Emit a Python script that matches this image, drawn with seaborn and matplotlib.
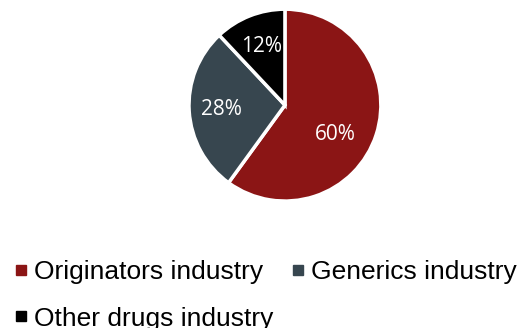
import matplotlib
matplotlib.use("Agg")
import matplotlib.pyplot as plt
from matplotlib.lines import Line2D
import numpy as np
import seaborn as sns

# Market share by industry segment
segments = ["Originators industry", "Generics industry", "Other drugs industry"]
shares = [60, 28, 12]
colors = ["#8B1515", "#37464F", "#000000"]

sns.set_theme(style="white")
plt.rcParams["font.family"] = ["Liberation Sans", "DejaVu Sans"]

palette = sns.color_palette(colors)

fig = plt.figure(figsize=(5.19, 3.28), dpi=100)
ax = fig.add_axes([0.364, 0.387, 0.370, 0.585])

wedges, texts, autotexts = ax.pie(
    shares,
    colors=palette,
    startangle=90,
    counterclock=False,
    autopct=lambda p: f"{p:.0f}%",
    pctdistance=0.66,
    wedgeprops=dict(edgecolor="white", linewidth=2.5),
    textprops=dict(color="white", fontsize=15, family="Open Sans"),
    radius=1.0,
)
# the large slice label sits a little lower than its wedge midpoint
ang = np.deg2rad(-30.6)
autotexts[0].set_position((0.61 * np.cos(ang), 0.61 * np.sin(ang)))

ax.set_xlim(-1.0, 1.0)
ax.set_ylim(-1.0, 1.0)
ax.set_aspect("equal")
ax.axis("off")

# Legend laid out row-wise across two columns
handles = [
    Line2D([], [], marker="s", linestyle="none", markersize=6.5,
           markerfacecolor=c, markeredgecolor=c)
    for c in palette
]
order = [0, 2, 1]
fig.legend(
    [handles[i] for i in order],
    [segments[i] for i in order],
    ncol=2,
    loc="upper left",
    bbox_to_anchor=(0.031, 0.207),
    frameon=False,
    fontsize=19,
    handlelength=0.4,
    handletextpad=0.27,
    columnspacing=0.76,
    labelspacing=0.85,
    borderaxespad=0,
    borderpad=0,
    labelcolor="black",
)

fig.savefig("out.png", dpi=100)
